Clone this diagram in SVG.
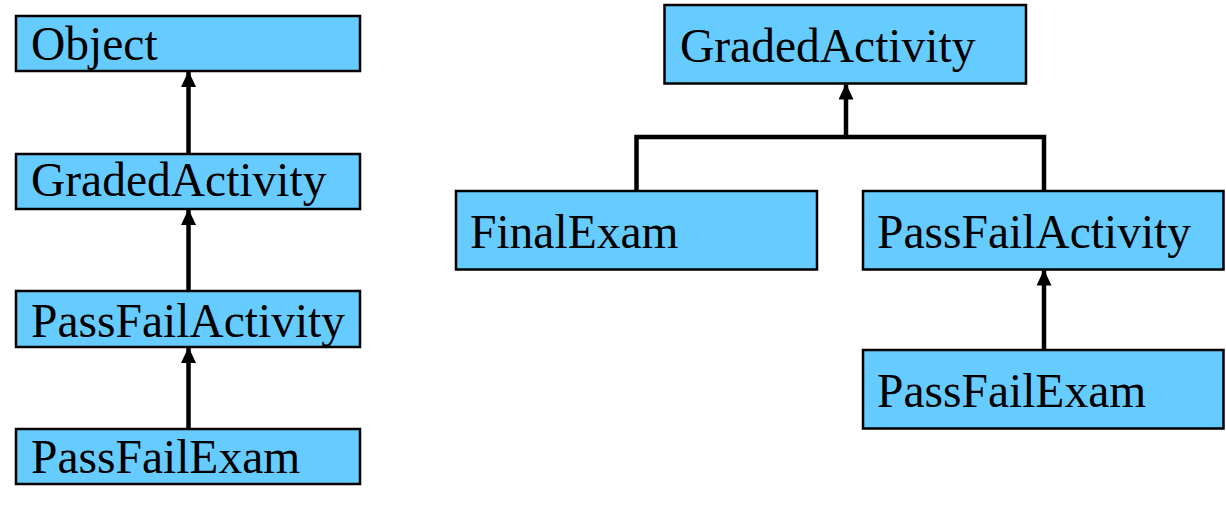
<svg xmlns="http://www.w3.org/2000/svg" width="1226" height="516" viewBox="0 0 1226 516">
<style>
.box{fill:#66ccff;stroke:#000;stroke-width:2.5}
.lbl{font-family:"Liberation Serif","Times New Roman",serif;font-size:47.5px;fill:#000}
.conn{fill:none;stroke:#000;stroke-width:4.5}
</style>
<defs>
<marker id="ah" viewBox="0 0 16 15" refX="15" refY="7.5" markerWidth="16" markerHeight="15" markerUnits="userSpaceOnUse" orient="auto">
<path d="M0,0 L16,7.5 L0,15 Z" fill="#000"/>
</marker>
</defs>
<rect width="1226" height="516" fill="#fff"/>
<g id="connectors">
<line class="conn" x1="188.5" y1="154" x2="188.5" y2="72" marker-end="url(#ah)"/>
<line class="conn" x1="188.5" y1="291" x2="188.5" y2="210" marker-end="url(#ah)"/>
<line class="conn" x1="188.5" y1="429" x2="188.5" y2="348" marker-end="url(#ah)"/>
<polyline class="conn" points="636.5,191 636.5,137 1044,137 1044,191"/>
<line class="conn" x1="846" y1="137" x2="846" y2="84.5" marker-end="url(#ah)"/>
<line class="conn" x1="1044" y1="350" x2="1044" y2="270.5" marker-end="url(#ah)"/>
</g>
<g id="left-object">
<rect class="box" x="16" y="16" width="344" height="55"/>
<text class="lbl" x="31" y="60">Object</text>
</g>
<g id="left-gradedactivity">
<rect class="box" x="16" y="154" width="344" height="55"/>
<text class="lbl" x="31" y="196">GradedActivity</text>
</g>
<g id="left-passfailactivity">
<rect class="box" x="16" y="291" width="344" height="56"/>
<text class="lbl" x="31" y="337">PassFailActivity</text>
</g>
<g id="left-passfailexam">
<rect class="box" x="16" y="429" width="344" height="55"/>
<text class="lbl" x="31" y="473">PassFailExam</text>
</g>
<g id="right-gradedactivity">
<rect class="box" x="664.5" y="5" width="361.5" height="78.5"/>
<text class="lbl" x="680" y="62">GradedActivity</text>
</g>
<g id="right-finalexam">
<rect class="box" x="456" y="191" width="361" height="78.5"/>
<text class="lbl" x="470" y="248">FinalExam</text>
</g>
<g id="right-passfailactivity">
<rect class="box" x="863" y="191" width="360.5" height="78.5"/>
<text class="lbl" x="877" y="248">PassFailActivity</text>
</g>
<g id="right-passfailexam">
<rect class="box" x="863" y="350" width="360.5" height="78.5"/>
<text class="lbl" x="877" y="407">PassFailExam</text>
</g>
</svg>
